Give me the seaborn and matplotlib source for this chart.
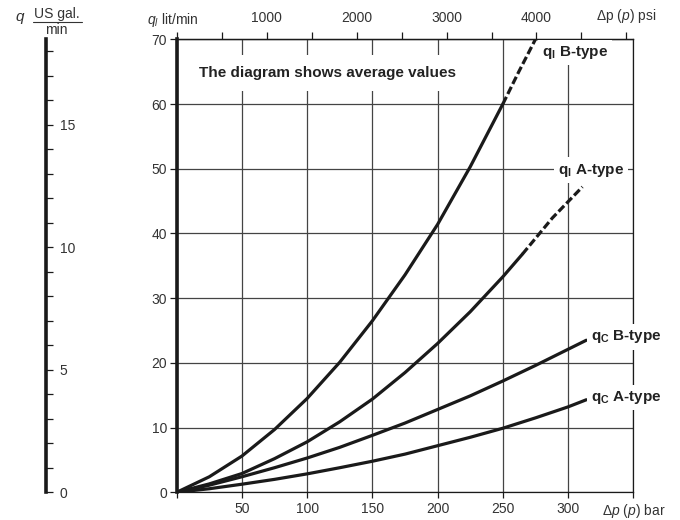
import numpy as np
import pandas as pd
import seaborn as sns
import matplotlib.pyplot as plt
from matplotlib.ticker import MultipleLocator, FixedLocator

# flow vs pressure
p_main = [0, 25, 50, 75, 100, 125, 150, 175, 200, 225, 250]
ql_b = [0, 2.4, 5.6, 9.7, 14.5, 20.1, 26.5, 33.6, 41.4, 50.3, 60.0]
p_ql_b_ext = [250, 262, 275]
ql_b_ext = [60.0, 64.9, 70.0]

p_ql_a = [0, 25, 50, 75, 100, 125, 150, 175, 200, 225, 250, 265]
ql_a = [0, 1.3, 2.9, 5.2, 7.8, 10.9, 14.4, 18.5, 23.0, 27.9, 33.3, 36.8]
p_ql_a_ext = [265, 288, 311]
ql_a_ext = [36.8, 42.4, 47.2]

p_qc = [0, 25, 50, 75, 100, 125, 150, 175, 200, 225, 250, 275, 300, 314]
qc_b = [0, 1.1, 2.4, 3.8, 5.3, 6.95, 8.8, 10.7, 12.8, 14.9, 17.2, 19.6, 22.1, 23.5]
qc_a = [0, 0.55, 1.25, 2.0, 2.85, 3.8, 4.8, 5.9, 7.2, 8.5, 9.9, 11.5, 13.2, 14.3]

bar_ticks = [0, 50, 100, 150, 200, 250, 300, 350]
bar_labels = ['', '50', '100', '150', '200', '250', '300', 'Δ$p$ ($p$) bar']
psi_ticks = [1000, 2000, 3000, 4000, 5000]
psi_labels = ['1000', '2000', '3000', '4000', 'Δp ($p$) psi']
lpm_ticks = [0, 10, 20, 30, 40, 50, 60, 70]
gpm_ticks = [0, 5, 10, 15]

PSI_PER_BAR = 14.5038
L_PER_GAL = 3.785

sns.set_theme(style='white')
plt.rcParams['font.family'] = ['Liberation Sans', 'DejaVu Sans']
plt.rcParams['mathtext.fontset'] = 'custom'
plt.rcParams['mathtext.rm'] = 'Liberation Sans'
plt.rcParams['mathtext.it'] = 'Liberation Sans:italic'
plt.rcParams['mathtext.bf'] = 'Liberation Sans:bold'

ink = '#1a1a1a'
txt = '#333333'
W, H = 680, 520
fig = plt.figure(figsize=(6.8, 5.2), dpi=100)
fig.patch.set_facecolor('white')

left, right, top, bottom = 176.7 / W, 633.3 / W, 1 - 39.3 / H, 1 - 492.3 / H
ax = fig.add_axes([left, bottom, right - left, top - bottom])
ax.set_xlim(0, 350)
ax.set_ylim(0, 70)

ax.grid(True, color='#444444', lw=0.9)
ax.set_axisbelow(True)

lw = 2.3
for x, y in [(p_main, ql_b), (p_ql_a, ql_a), (p_qc, qc_b), (p_qc, qc_a)]:
    sns.lineplot(x=x, y=y, ax=ax, color=ink, linewidth=lw, estimator=None, sort=False,
                 solid_joinstyle='round', zorder=3)
for x, y in [(p_ql_b_ext, ql_b_ext), (p_ql_a_ext, ql_a_ext)]:
    sns.lineplot(x=x, y=y, ax=ax, color=ink, linewidth=lw, estimator=None, sort=False,
                 linestyle=(0, (2.5, 1.0)), zorder=3)

for s in ['top', 'right', 'bottom']:
    ax.spines[s].set_color(ink)
    ax.spines[s].set_linewidth(0.9)
ax.spines['left'].set_color(ink)
ax.spines['left'].set_linewidth(2.6)

ax.xaxis.set_major_locator(FixedLocator(bar_ticks))
ax.set_xticklabels(bar_labels)
ax.yaxis.set_major_locator(FixedLocator(lpm_ticks))
ax.set_yticklabels([str(v) for v in lpm_ticks])
ax.tick_params(axis='x', bottom=True, direction='out', length=4, width=0.9, color=ink,
               labelsize=10, labelcolor=txt, pad=3)
ax.tick_params(axis='y', left=True, direction='out', length=5, width=0.9, color=ink,
               labelsize=10, labelcolor=txt, pad=2)
ax.set_xlabel('')
ax.set_ylabel('')

# top psi axis
sec = ax.secondary_xaxis('top', functions=(lambda b: b * PSI_PER_BAR, lambda p: p / PSI_PER_BAR))
sec.xaxis.set_major_locator(FixedLocator(psi_ticks))
sec.set_xticklabels(psi_labels)
sec.xaxis.set_minor_locator(MultipleLocator(500))
sec.tick_params(axis='x', which='both', direction='out', length=5, width=0.9, color=ink,
                labelsize=10, labelcolor=txt, pad=5)
sec.spines['top'].set_linewidth(0.9)
sec.spines['top'].set_color(ink)

# left US gal/min scale
axg = fig.add_axes([40 / W, bottom, 6 / W, top - bottom])
axg.set_ylim(0, 70 / L_PER_GAL)
axg.set_facecolor('none')
for s in ['top', 'left', 'bottom']:
    axg.spines[s].set_visible(False)
axg.spines['right'].set_linewidth(2.6)
axg.spines['right'].set_color(ink)
axg.set_xticks([])
axg.yaxis.tick_right()
axg.yaxis.set_major_locator(FixedLocator(gpm_ticks))
axg.set_yticklabels([str(v) for v in gpm_ticks])
axg.yaxis.set_minor_locator(MultipleLocator(1))
axg.tick_params(axis='y', which='both', direction='out', length=5, width=0.9, color=ink,
                labelsize=10, labelcolor=txt, pad=5)

# axis titles
fig.text(20 / W, 1 - 18 / H, '$q$', fontsize=11, color=txt, ha='center', va='center')
fig.text(57 / W, 1 - 14 / H, 'US gal.', fontsize=10, color=txt, ha='center', va='center')
fig.add_artist(plt.Line2D([33 / W, 82 / W], [1 - 21.5 / H, 1 - 21.5 / H], color=txt, lw=0.8))
fig.text(56 / W, 1 - 30 / H, 'min', fontsize=10, color=txt, ha='center', va='center')
fig.text(147 / W, 1 - 20 / H, '$q_l$ lit/min', fontsize=10, color=txt, ha='left', va='center')

# annotations
box = dict(facecolor='white', edgecolor='none', pad=3)
ax.text(17, 64.8, 'The diagram shows average values', fontsize=11, fontweight='bold',
        color='#222222', ha='left', va='center', bbox=dict(facecolor='white', edgecolor='none', pad=8), zorder=4)
ax.text(280, 68.0, r'$\mathbf{q_l}$ B-type', fontsize=11, fontweight='bold', color='#222222',
        ha='left', va='center', bbox=box, zorder=4)
ax.text(292, 49.8, r'$\mathbf{q_l}$ A-type', fontsize=11, fontweight='bold', color='#222222',
        ha='left', va='center', bbox=box, zorder=4)
ax.text(317.5, 24.0, r'$\mathbf{q_C}$ B-type', fontsize=11, fontweight='bold', color='#222222',
        ha='left', va='center', bbox=box, zorder=4)
ax.text(317.5, 14.6, r'$\mathbf{q_C}$ A-type', fontsize=11, fontweight='bold', color='#222222',
        ha='left', va='center', bbox=box, zorder=4)

fig.savefig('out.png', dpi=100, facecolor='white')
